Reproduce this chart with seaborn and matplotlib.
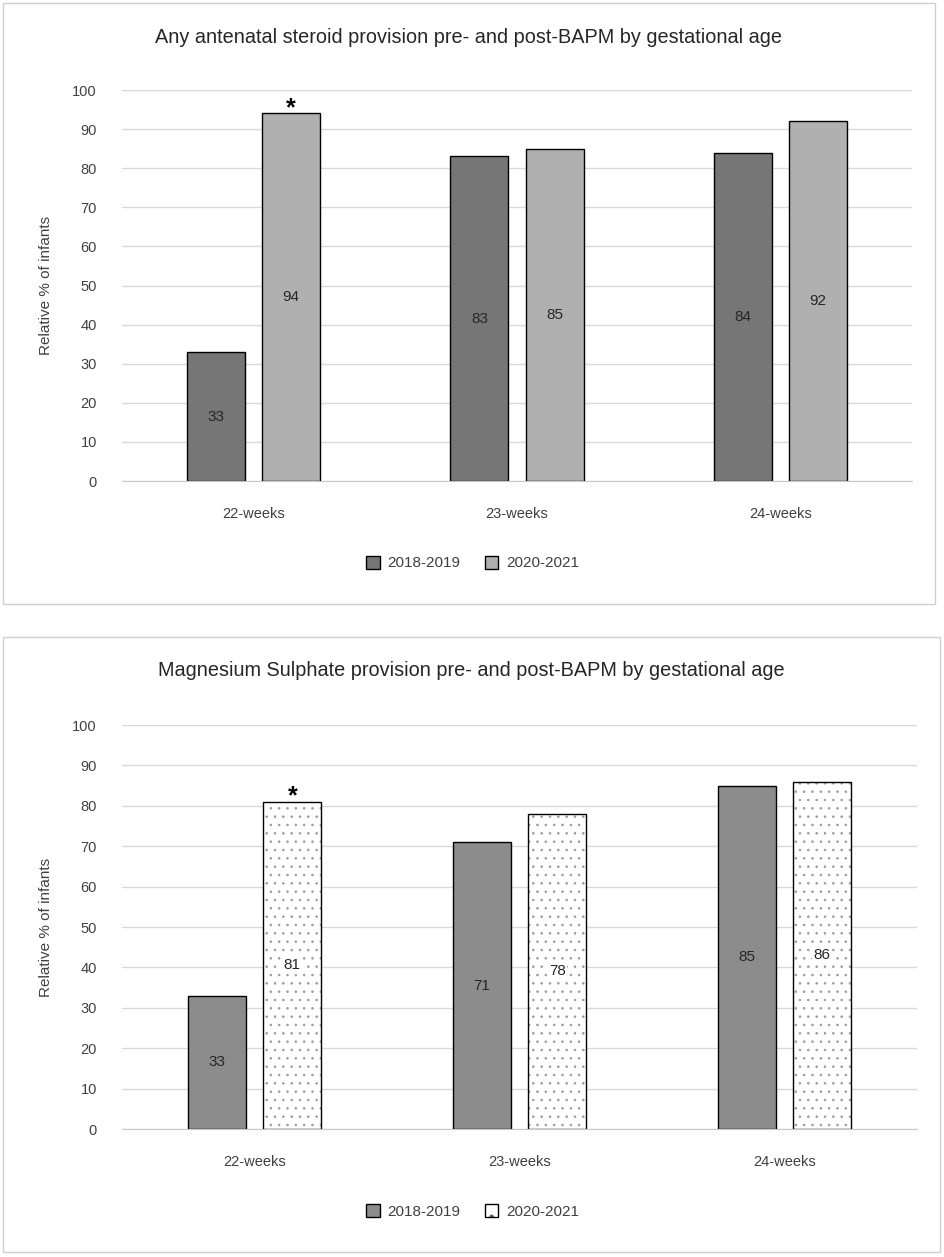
import matplotlib
matplotlib.use("Agg")
import matplotlib.pyplot as plt
import matplotlib.colors as mcolors
import seaborn as sns
import pandas as pd
from matplotlib.patches import Rectangle

# ---- data ----
categories = ["22-weeks", "23-weeks", "24-weeks"]
periods = ["2018-2019", "2020-2021"]
steroid_pre = [33, 83, 84]
steroid_post = [94, 85, 92]
mgso4_pre = [33, 71, 85]
mgso4_post = [81, 78, 86]
significant = [True, False, False]
yticks = [0, 10, 20, 30, 40, 50, 60, 70, 80, 90, 100]
title_top = "Any antenatal steroid provision pre- and post-BAPM by gestational age"
title_bottom = "Magnesium Sulphate provision pre- and post-BAPM by gestational age"
ylabel = "Relative % of infants"

sns.set_style("white")
plt.rcParams["font.family"] = ["Liberation Sans", "DejaVu Sans"]
plt.rcParams["hatch.linewidth"] = 0.6

TXT = "#404040"


def set_hatch_color(patch, color):
    if hasattr(patch, "set_hatchcolor"):
        patch.set_hatchcolor(color)
    patch._hatch_color = mcolors.to_rgba(color)


def make_df(pre, post):
    return pd.DataFrame({
        "cat": categories * 2,
        "period": [periods[0]] * 3 + [periods[1]] * 3,
        "value": list(pre) + list(post),
    })

fig = plt.figure(figsize=(9.45, 12.57), dpi=100)

# panel frames
fig.add_artist(Rectangle((0.0032, 0.5195), 0.9862, 0.4781, transform=fig.transFigure,
                         fill=False, edgecolor="#cfcfcf", linewidth=1.0))
fig.add_artist(Rectangle((0.0032, 0.0040), 0.9915, 0.4893, transform=fig.transFigure,
                         fill=False, edgecolor="#cfcfcf", linewidth=1.0))

ax1 = fig.add_axes([0.1291, 0.6173, 0.8360, 0.3111])
ax2 = fig.add_axes([0.1291, 0.1018, 0.8413, 0.3214])

specs = [
    (ax1, steroid_pre, steroid_post, ["#767676", "#b0b0b0"], False, title_top, 0.970, 0.496, 0.552),
    (ax2, mgso4_pre, mgso4_post, ["#8c8c8c", "#ffffff"], True, title_bottom, 0.4662, 0.499, 0.036),
]

for ax, pre, post, pal, hatched, title, ty, tx, ly in specs:
    df = make_df(pre, post)
    sns.barplot(data=df, x="cat", y="value", hue="period", hue_order=periods,
                order=categories, palette=pal, width=0.57, gap=0.227,
                edgecolor="black", linewidth=1.0, saturation=1, ax=ax, legend=True)
    ax.set_ylim(0, 100)
    ax.set_xlim(-0.5, 2.5)
    ax.set_yticks(yticks)
    ax.grid(axis="y", color="#d9d9d9", linewidth=1.0)
    ax.set_axisbelow(True)
    for s in ["top", "right", "left"]:
        ax.spines[s].set_visible(False)
    ax.spines["bottom"].set_color("#c8c8c8")
    ax.tick_params(axis="both", length=0, labelsize=10.5, colors=TXT)
    ax.tick_params(axis="y", pad=18)
    ax.tick_params(axis="x", pad=19)
    ax.set_xlabel("")
    ax.set_ylabel(ylabel, fontsize=11, color=TXT, labelpad=14)

    post_container = ax.containers[1]
    if hatched:
        for p in post_container:
            p.set_hatch("..")
            set_hatch_color(p, "#9a9a9a")
    for i, (cont, vals) in enumerate(zip(ax.containers, [pre, post])):
        texts = ax.bar_label(cont, labels=[str(v) for v in vals], label_type="center",
                             fontsize=11, color="#262626")
        if hatched and i == 1:
            for t in texts:
                t.set_bbox(dict(facecolor="white", edgecolor="none", pad=1.0))
    ax.bar_label(post_container, labels=["*" if s else "" for s in significant],
                 padding=-5, fontsize=18, fontweight="bold", color="black")

    leg = ax.legend(loc="center", bbox_to_anchor=(0.5, ly), bbox_transform=fig.transFigure,
                    ncol=2, frameon=False, fontsize=11, handlelength=0.9, handleheight=0.9,
                    columnspacing=1.6, handletextpad=0.5)
    for t in leg.get_texts():
        t.set_color(TXT)
    for h in leg.legend_handles:
        h.set_edgecolor("black")
        h.set_linewidth(1.0)
    if hatched:
        h2 = leg.legend_handles[1]
        h2.set_hatch(".")
        set_hatch_color(h2, "#555555")

    fig.text(tx, ty, title, ha="center", va="center", fontsize=14.3, color="#262626")

fig.savefig("out.png", dpi=100)
